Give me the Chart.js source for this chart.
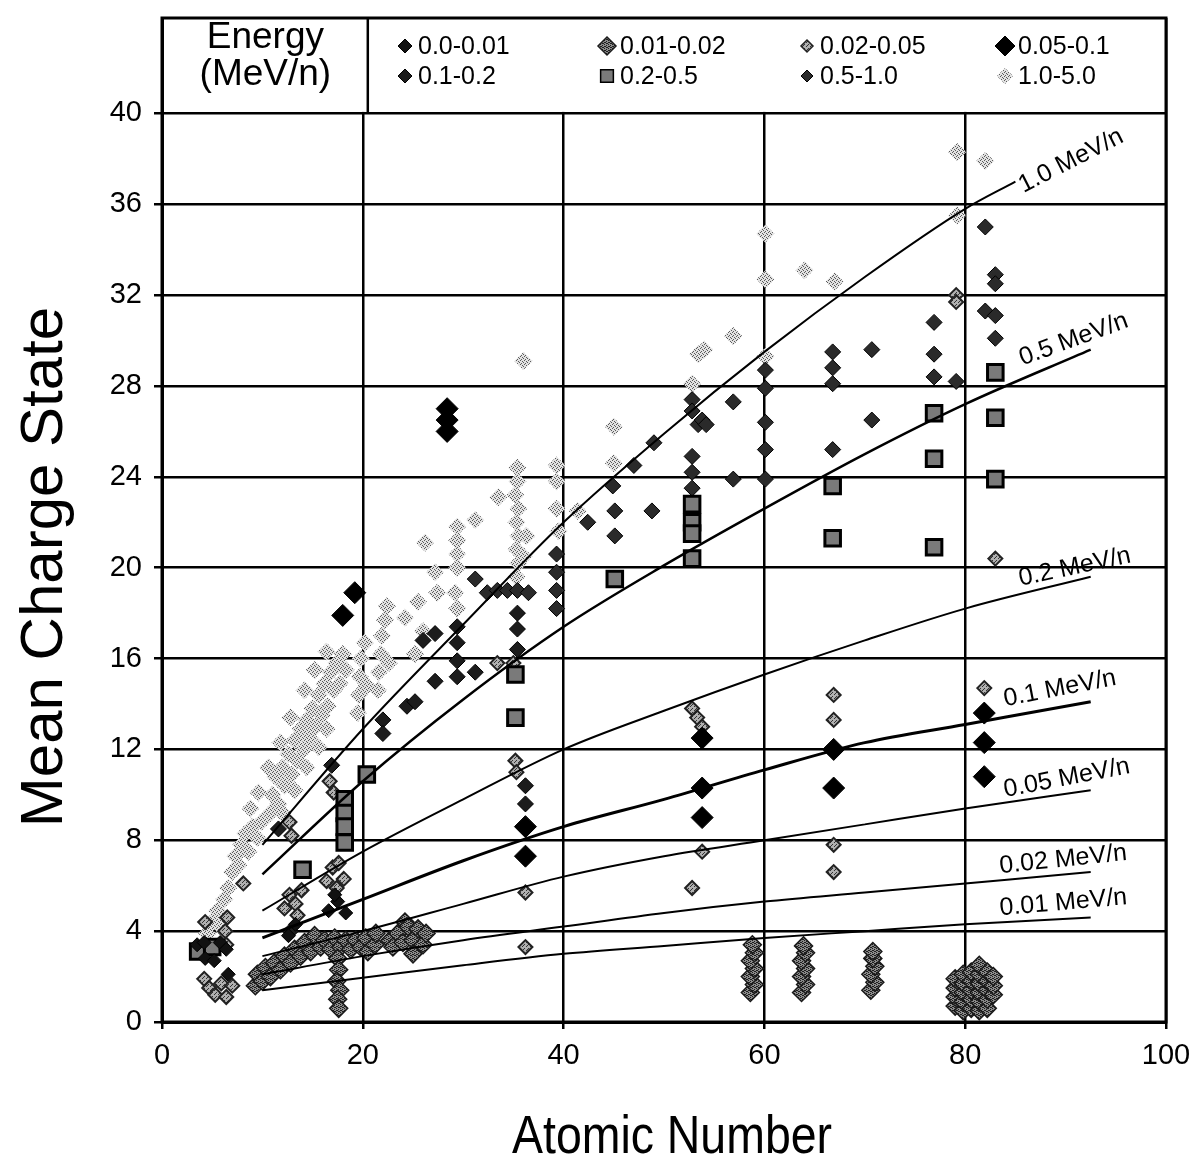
<!DOCTYPE html>
<html>
<head>
<meta charset="utf-8">
<script src="https://cdn.jsdelivr.net/npm/chart.js@4.4.1/dist/chart.umd.min.js"></script>
<style>
  body { margin: 0; background: #fff; }
</style>
</head>
<body>
<canvas id="myChart" width="1196" height="1164"></canvas>
<script>
// ---- data: [atomic number, mean charge state] ----
const binLabels = ['0.0-0.01', '0.01-0.02', '0.02-0.05', '0.05-0.1', '0.1-0.2', '0.2-0.5', '0.5-1.0', '1.0-5.0'];

const bin0_0_01 = [[3.5,3.4],[4.2,3.5],[4.3,2.8],[5.2,2.7],[5.8,3.5],[6.4,3.2],[6.6,2.1],[12.6,3.8],[13.3,4.3],
  [16.6,4.9],[17.5,5.3],[18.3,4.8],[17.2,5.6]];

const bin0_01_0_02 = [[9.3,1.6],[9.5,2.1],[10,1.8],[10.3,2.4],[10.8,2.0],[11.2,2.6],[11.8,2.3],[12.2,2.9],[12.8,2.6],
  [13.2,3.2],[13.8,2.9],[14.2,3.5],[14.8,3.1],[15.2,3.8],[15.8,3.3],[16.2,3.6],[16.8,3.2],[17.2,3.7],[17.8,3.3],
  [18.3,3.6],[18.8,3.2],[19.3,3.6],[19.8,3.3],[20.3,3.7],[20.5,3.1],[21.2,3.4],[21.3,3.9],[17.5,2.8],[17.6,2.3],
  [17.4,1.8],[17.7,1.4],[17.5,1.0],[17.6,0.6],[22.7,3.6],[23,3.3],[23.5,3.9],[24,3.5],[24.2,4.4],[24.5,4.2],
  [25,3.6],[25,3.0],[25.5,4.1],[26,3.4],[26.3,3.9],
  [58.6,1.3],[59.0,1.65],[58.6,2.0],[59.0,2.35],[58.6,2.7],[59.0,3.05],[58.8,3.4],
  [63.7,1.3],[64.1,1.65],[63.7,2.0],[64.1,2.35],[63.7,2.7],[64.1,3.05],[63.9,3.35],
  [70.6,1.4],[71.0,1.75],[70.6,2.1],[71.0,2.45],[70.8,2.8],[70.8,3.1],
  [79,0.7],[79,1.1],[79,1.5],[79,1.9],[79.8,0.5],[79.8,0.9],[79.8,1.3],[79.8,1.7],[79.8,2.1],
  [80.6,0.6],[80.6,1.0],[80.6,1.4],[80.6,1.8],[80.6,2.2],[81.4,0.5],[81.4,0.9],[81.4,1.3],[81.4,1.7],
  [81.4,2.1],[81.4,2.5],[82.2,0.6],[82.2,1.0],[82.2,1.4],[82.2,1.8],[82.2,2.2],[82.8,1.2],[82.8,1.6],[82.8,2.0]];

const bin0_02_0_05 = [[8.1,6.1],[4.3,4.4],[6.3,4.0],[6.5,4.6],[6.4,3.4],[4.2,1.9],[4.7,1.5],[5.3,1.2],[5.9,1.7],
  [6.4,1.1],[7.0,1.6],[12.2,5.0],[12.7,5.6],[13.3,5.2],[13.9,5.8],[13.5,4.7],[16.4,6.2],[17.0,6.8],[17.6,7.0],
  [18.1,6.3],[17.4,5.9],[16.7,10.6],[17.1,10.1],[12.7,8.8],[12.9,8.2],[35.2,11.5],[35.3,11.0],[36.2,5.7],
  [36.2,3.3],[52.8,13.8],[53.3,13.4],[53.8,13.0],[52.8,5.9],[53.8,7.5],[66.9,14.4],[66.9,13.3],[66.9,7.8],
  [66.9,6.6],[81.9,14.7],[83,20.4],[35,15.8],[33.4,15.8],[79.1,32.0],[79.1,31.7]];

const bin0_05_0_1 = [[28.4,27.0],[28.4,26.5],[28.4,26.0],[18.0,17.9],[19.2,18.9],[36.2,8.6],[36.2,7.3],
  [53.8,12.5],[53.8,10.3],[53.8,9.0],[66.9,12.0],[66.9,10.3],[81.9,13.6],[81.9,12.3],[81.9,10.8]];

const bin0_1_0_2 = [[11.6,8.5],[22,13.3],[22,12.7],[24.4,13.9],[25.2,14.1],[26.0,16.8],[27.2,17.1],[27.2,15.0],
  [29.4,17.4],[29.4,16.7],[29.4,15.9],[29.4,15.2],[31.2,15.4],[35.4,18.0],[35.4,17.3],[35.4,16.4],[36.2,10.4],
  [36.2,9.6],[16.9,11.3],[12.8,4.0]];

const bin0_2_0_5 = [[3.6,3.1],[5.0,3.3],[14.0,6.7],[18.2,9.8],[18.2,9.2],[18.2,8.6],[18.2,7.9],[20.4,10.9],
  [35.2,15.3],[35.2,13.4],[45.1,19.5],[52.8,22.8],[52.8,22.0],[52.8,21.5],[52.8,20.4],[66.8,23.6],[66.8,21.3],
  [76.9,26.8],[76.9,24.8],[76.9,20.9],[83,28.6],[83,26.6],[83,23.9]];

const bin0_5_1_0 = [[31.2,19.5],[32.4,18.9],[33.4,19.0],[34.4,19.0],[35.4,19.0],[36.5,18.9],[39.3,20.6],[39.3,19.8],
  [39.3,19.0],[39.3,18.2],[42.4,22.0],[44.9,23.6],[45.1,22.5],[45.1,21.4],[47,24.5],[49,25.5],[48.8,22.5],
  [52.8,27.4],[52.8,26.9],[53.4,26.3],[53.8,26.5],[54.2,26.3],[52.8,24.9],[52.8,24.2],[52.8,23.5],[56.9,27.3],
  [56.9,23.9],[60.1,28.7],[60.1,27.9],[60.1,26.4],[60.1,25.2],[60.1,23.9],[66.8,29.5],[66.8,28.8],[66.8,28.1],
  [66.8,25.2],[70.7,29.6],[70.7,26.5],[76.9,30.8],[76.9,29.4],[76.9,28.4],[79.1,28.2],[82,35.0],[83,32.9],
  [83,32.5],[82,31.3],[83,31.1],[83,30.1]];

const bin1_0_5_0 = [[4.5,3.9],[5,4.4],[5.5,4.9],[5.8,4.2],[6.2,5.4],[6.6,5.9],[7,6.6],[7.3,7.3],[7.6,6.9],[7.9,7.8],
  [8.3,8.3],[8.6,7.5],[9,8.6],[9.5,8.1],[9.9,8.8],[10.8,9.2],[11,10.0],[11.3,10.8],[11.6,9.6],[12,11.2],[12.2,10.4],
  [12.6,11.8],[12.9,10.9],[13.2,12.4],[13.5,11.5],[13.8,12.9],[14.1,12.0],[14.4,13.3],[14.7,12.5],[15,13.8],
  [15.3,13.0],[15.6,14.4],[15.9,13.5],[16.2,14.9],[16.5,13.9],[16.8,15.4],[17.1,14.6],[17.4,15.8],[17.7,14.9],
  [18,16.2],[18.3,15.5],[16.4,12.9],[15.6,12.1],[14.4,11.2],[13.2,10.2],[12,9.2],
  [11.8,12.3],[12.8,13.4],[14.2,14.6],[15.2,15.5],[16.4,16.3],[10.6,11.2],[9.6,10.1],[8.8,9.4],
  [19.5,13.6],[19.6,14.4],[19.7,15.2],[19.8,16.0],[20.2,16.7],[20.4,14.8],
  [21.5,14.6],[21.6,15.4],[21.8,16.2],[21.9,17.0],[22.2,17.7],[22.4,18.3],[22.6,15.8],
  [24.2,17.8],[25.5,18.5],[26.0,17.2],[25.2,16.2],[26.2,21.1],[27.2,19.8],[27.4,18.9],
  [29.4,21.8],[29.4,21.2],[29.4,20.6],[29.4,20.0],[29.2,18.9],[29.4,18.2],[31.2,22.1],[33.5,23.1],
  [35.4,24.4],[35.4,23.8],[35.2,23.2],[35.5,22.6],[35.3,22.0],[35.5,21.4],[35.3,20.8],[35.5,20.2],[35.3,19.6],
  [36,20.5],[36.3,21.4],[39.3,24.5],[39.3,23.8],[39.3,22.6],[39.5,21.6],[41.4,22.5],
  [36,29.1],[45,26.2],[45,24.6],[52.8,28.1],[53.4,29.4],[54,29.6],[56.9,30.2],[60.1,29.3],[60.1,32.7],
  [60.1,34.7],[64,33.1],[67,32.6],[79.2,38.3],[82,37.9],[79.2,35.5]];

// equal-energy curves
const curveZ = [10, 20, 30, 40, 50, 60, 70, 80, 92.5];
const curveZ10 = [10, 20, 30, 40, 50, 60, 70, 80, 85];
const q1_0 = [7.8, 12.9, 17.5, 22.0, 25.9, 29.5, 32.8, 35.8, 37.0];
const q0_5 = [6.5, 10.6, 14.2, 17.4, 20.1, 22.6, 25.0, 27.2, 29.6];
const q0_2 = [4.9, 7.5, 9.8, 12.0, 13.7, 15.3, 16.8, 18.2, 19.6];
const q0_1 = [3.7, 5.4, 7.1, 8.6, 9.8, 11.1, 12.3, 13.1, 14.1];
const q0_05 = [2.9, 4.0, 5.2, 6.4, 7.3, 8.0, 8.7, 9.4, 10.2];
const q0_02 = [2.1, 2.9, 3.6, 4.2, 4.8, 5.3, 5.7, 6.1, 6.6];
const q0_01 = [1.4, 1.95, 2.5, 3.0, 3.35, 3.7, 4.0, 4.3, 4.6];
const curveNames = ['1.0 MeV/n', '0.5 MeV/n', '0.2 MeV/n', '0.1 MeV/n', '0.05 MeV/n', '0.02 MeV/n', '0.01 MeV/n'];

const xTicks = [0, 20, 40, 60, 80, 100];
const yTicks = [0, 4, 8, 12, 16, 20, 24, 28, 32, 36, 40];

// ---- styles ----
const SANS = "'Liberation Sans', Arial, sans-serif";

// speckled fills, like the scanned markers
function speckle(bg, dot, cells) {
  const c = document.createElement('canvas');
  c.width = 4; c.height = 4;
  const g = c.getContext('2d');
  g.fillStyle = bg; g.fillRect(0, 0, 4, 4);
  g.fillStyle = dot;
  cells.forEach(p => g.fillRect(p[0], p[1], 1, 1));
  return g.createPattern(c, 'repeat');
}
const lightSpeckle = speckle('#e2e2e2', '#5a5a5a', [[0,0],[2,1],[1,3],[3,2]]);
const midSpeckle = speckle('#8a8a8a', '#1e1e1e', [[0,0],[2,1],[1,2],[3,3],[2,3],[0,2]]);
const greySpeckle = speckle('#b0b0b0', '#333', [[0,0],[2,2],[3,1]]);

const binStyles = [
  { shape: 'rectRot', r: 7,  fill: '#111', border: '#000', bw: 1 },
  { shape: 'rectRot', r: 9,  fill: midSpeckle, border: '#1a1a1a', bw: 1.5 },
  { shape: 'rectRot', r: 7,  fill: greySpeckle, border: '#222', bw: 2 },
  { shape: 'rectRot', r: 11, fill: '#000', border: '#000', bw: 1 },
  { shape: 'rectRot', r: 8,  fill: '#1c1c1c', border: '#000', bw: 1 },
  { shape: 'rect',    r: 11, fill: '#7a7a7a', border: '#000', bw: 3 },
  { shape: 'rectRot', r: 8,  fill: '#2a2a2a', border: '#000', bw: 1 },
  { shape: 'rectRot', r: 9,  fill: lightSpeckle, border: '#ccc', bw: 0 }
];
const legendSizes = [7, 9, 6, 10, 7, 9, 6, 8];
// label anchors (start of baseline) and angle for each curve
const curveLabelPos = [[85.8, 36.5, -27], [85.7, 28.9, -20], [85.5, 19.2, -12], [84, 13.9, -11],
  [84, 9.9, -11], [83.5, 6.55, -6], [83.5, 4.7, -5]];
const curveWidths = [2, 2.5, 2, 3, 2, 2, 2];

const binData = [bin0_0_01, bin0_01_0_02, bin0_02_0_05, bin0_05_0_1, bin0_1_0_2, bin0_2_0_5, bin0_5_1_0, bin1_0_5_0];
const curveQ = [q1_0, q0_5, q0_2, q0_1, q0_05, q0_02, q0_01];

const datasets = [];
curveQ.forEach((qs, i) => {
  const zs = i === 0 ? curveZ10 : curveZ;
  datasets.push({
    type: 'line',
    label: curveNames[i],
    data: qs.map((q, k) => ({ x: zs[k], y: q })),
    borderColor: '#000',
    borderWidth: curveWidths[i],
    pointRadius: 0,
    fill: false,
    cubicInterpolationMode: 'monotone',
    order: 0
  });
});
binData.forEach((pts, i) => {
  const s = binStyles[i];
  datasets.push({
    label: binLabels[i],
    data: pts.map(p => ({ x: p[0], y: p[1] })),
    pointStyle: s.shape,
    pointRadius: s.r,
    backgroundColor: s.fill,
    borderColor: s.border,
    borderWidth: s.bw,
    order: i === 7 ? 20 : (i === 1 ? 15 : (i === 2 ? 12 : 5))
  });
});

function drawMark(ctx, shape, x, y, r, fill, border, bw) {
  ctx.beginPath();
  if (shape === 'rect') {
    const h = r * Math.SQRT1_2;
    ctx.rect(x - h, y - h, 2 * h, 2 * h);
  } else {
    ctx.moveTo(x, y - r); ctx.lineTo(x + r, y); ctx.lineTo(x, y + r); ctx.lineTo(x - r, y); ctx.closePath();
  }
  ctx.fillStyle = fill; ctx.fill();
  if (bw > 0) { ctx.lineWidth = bw; ctx.strokeStyle = border; ctx.stroke(); }
}

// white legend box above y = 40
const boxLegend = {
  id: 'boxLegend',
  beforeDatasetsDraw(chart) {
    const { ctx, chartArea: ca, scales: { x, y } } = chart;
    const y40 = y.getPixelForValue(40);
    const x20 = x.getPixelForValue(20);
    ctx.save();
    ctx.fillStyle = '#fff';
    ctx.fillRect(ca.left + 2, ca.top, ca.right - ca.left - 2, y40 - ca.top - 1.5);
    ctx.strokeStyle = '#000';
    ctx.lineWidth = 2.5;
    ctx.beginPath(); ctx.moveTo(x20 + 5, ca.top); ctx.lineTo(x20 + 5, y40); ctx.stroke();
    ctx.restore();
  },
  afterDraw(chart) {
    const { ctx, chartArea: ca, scales: { x, y } } = chart;
    const x20 = x.getPixelForValue(20);
    ctx.save();
    ctx.fillStyle = '#000';
    ctx.textAlign = 'center';
    ctx.textBaseline = 'middle';
    ctx.font = '37px ' + SANS;
    const cx = (ca.left + x20) / 2 + 3;
    ctx.fillText('Energy', cx, ca.top + 20);
    ctx.fillText('(MeV/n)', cx, ca.top + 57);
    ctx.font = '25px ' + SANS;
    ctx.textAlign = 'left';
    const colX = [405, 607, 807, 1005];
    const rowY = [ca.top + 28, ca.top + 58];
    binLabels.forEach((lab, i) => {
      const s = binStyles[i];
      const mx = colX[i % 4], my = rowY[Math.floor(i / 4)];
      drawMark(ctx, s.shape, mx, my, legendSizes[i], s.fill, s.border, Math.min(s.bw, 1.5));
      ctx.fillStyle = '#000';
      ctx.fillText(lab, mx + 13, my + 1);
    });
    // outer frame
    ctx.strokeStyle = '#000';
    ctx.lineWidth = 3;
    ctx.strokeRect(ca.left, ca.top, ca.right - ca.left, ca.bottom - ca.top);
    // axis titles
    ctx.textAlign = 'center';
    ctx.save();
    ctx.font = '54px ' + SANS;
    ctx.translate(672, 1138);
    ctx.scale(0.86, 1);
    ctx.fillText('Atomic Number', 0, 0);
    ctx.restore();
    ctx.translate(45, 567);
    ctx.rotate(-Math.PI / 2);
    ctx.font = '60px ' + SANS;
    ctx.fillText('Mean Charge State', 0, 0);
    ctx.restore();
  }
};

const curveLabels = {
  id: 'curveLabels',
  afterDatasetsDraw(chart) {
    const { ctx, scales: { x, y } } = chart;
    ctx.save();
    ctx.fillStyle = '#000';
    ctx.font = '25px ' + SANS;
    ctx.textAlign = 'left';
    ctx.textBaseline = 'alphabetic';
    curveNames.forEach((name, i) => {
      const p = curveLabelPos[i];
      ctx.save();
      ctx.translate(x.getPixelForValue(p[0]), y.getPixelForValue(p[1]));
      ctx.rotate(p[2] * Math.PI / 180);
      ctx.fillText(name, 0, 0);
      ctx.restore();
    });
    ctx.restore();
  }
};

const ctx = document.getElementById('myChart').getContext('2d');
const myChart = new Chart(ctx, {
  type: 'scatter',
  data: { datasets: datasets },
  options: {
    responsive: false,
    animation: false,
    layout: { padding: { top: 18, right: 30, left: 0, bottom: 0 } },
    plugins: { legend: { display: false }, tooltip: { enabled: false } },
    scales: {
      x: {
        type: 'linear', min: 0, max: 100,
        afterFit: s => { s.height = 142; s.paddingLeft = 0; s.paddingRight = 0; },
        afterBuildTicks: s => { s.ticks = xTicks.map(v => ({ value: v })); },
        grid: { color: '#000', lineWidth: 2.5, tickLength: 7 },
        border: { color: '#000', width: 3 },
        ticks: { color: '#000', font: { family: SANS, size: 29 }, padding: 10, maxRotation: 0 }
      },
      y: {
        type: 'linear', min: 0, max: 44.2,
        afterFit: s => { s.width = 162; s.paddingTop = 0; s.paddingBottom = 0; },
        afterBuildTicks: s => { s.ticks = yTicks.map(v => ({ value: v })); },
        grid: { color: '#000', lineWidth: 2.5, tickLength: 8 },
        border: { color: '#000', width: 3 },
        ticks: { color: '#000', font: { family: SANS, size: 29 }, padding: 12 }
      }
    }
  },
  plugins: [boxLegend, curveLabels]
});
</script>
</body>
</html>
